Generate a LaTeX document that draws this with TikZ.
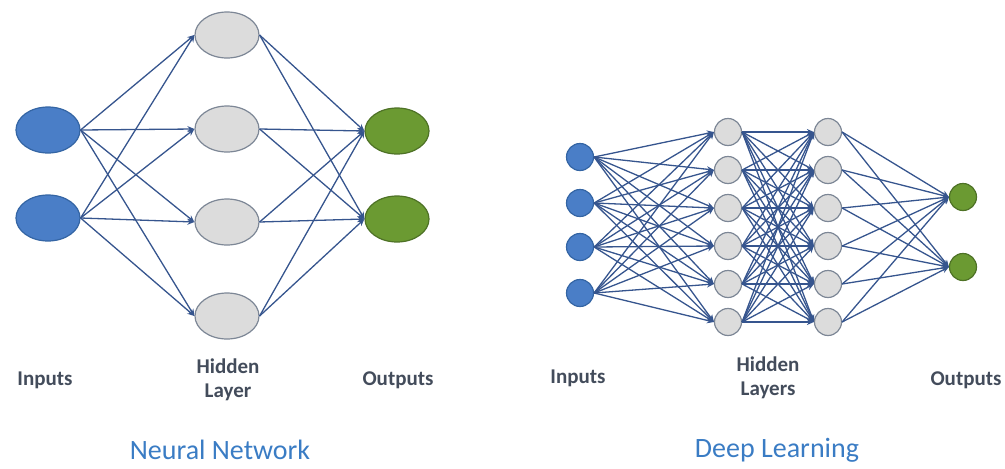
\documentclass[tikz,border=0pt]{standalone}
\usepackage{fontspec}
\setmainfont{Carlito}
\usetikzlibrary{arrows.meta,shapes.geometric}
\definecolor{linec}{HTML}{36558E}
\definecolor{inpf}{HTML}{4A7EC7}
\definecolor{inpd}{HTML}{3465A4}
\definecolor{hidf}{HTML}{DCDCDC}
\definecolor{hidd}{HTML}{7D8796}
\definecolor{outf}{HTML}{6B9A32}
\definecolor{outd}{HTML}{4E7226}
\definecolor{labc}{HTML}{434C5B}
\definecolor{titc}{HTML}{3A7CC4}
\tikzset{
  inbig/.style={ellipse, draw=inpd, fill=inpf, line width=1.2pt, minimum width=64pt, minimum height=46pt, inner sep=0pt},
  hidbig/.style={ellipse, draw=hidd, fill=hidf, line width=1.2pt, minimum width=64pt, minimum height=46pt, inner sep=0pt},
  outbig/.style={ellipse, draw=outd, fill=outf, line width=1.2pt, minimum width=64pt, minimum height=46pt, inner sep=0pt},
  insm/.style={circle, draw=inpd, fill=inpf, line width=1.2pt, minimum size=27pt, inner sep=0pt},
  hidsm/.style={circle, draw=hidd, fill=hidf, line width=1.2pt, minimum size=27pt, inner sep=0pt},
  outsm/.style={circle, draw=outd, fill=outf, line width=1.2pt, minimum size=27pt, inner sep=0pt},
  conn/.style={draw=linec, line width=1.3pt, -{Stealth[length=7pt,width=6pt]}},
  lab/.style={text=labc, font=\bfseries\fontsize{21}{24}\selectfont, align=center},
  title/.style={text=titc, font=\fontsize{28}{31}\selectfont}
}
\begin{document}
\begin{tikzpicture}[x=1pt,y=-1pt]
\useasboundingbox (0,0) rectangle (1005,469);
% ---- Neural network ----
\node[inbig] (a1) at (48,130) {};
\node[inbig] (a2) at (48,218) {};
\node[hidbig] (b1) at (227,35) {};
\node[hidbig] (b2) at (227,129) {};
\node[hidbig] (b3) at (227,222) {};
\node[hidbig] (b4) at (227,316) {};
\node[outbig] (c1) at (397,131) {};
\node[outbig] (c2) at (397,219) {};
\foreach \i in {1,2}{
  \foreach \j in {1,2,3,4}{
    \draw[conn] (a\i.east) -- (b\j.west);
  }
}
\foreach \j in {1,2,3,4}{
  \foreach \k in {1,2}{
    \draw[conn] (b\j.east) -- (c\k.west);
  }
}
% ---- Deep learning ----
\node[insm] (d1) at (580,157) {};
\node[insm] (d2) at (580,203) {};
\node[insm] (d3) at (580,247) {};
\node[insm] (d4) at (580,293) {};
\foreach \n/\y in {1/132,2/170,3/208,4/246,5/284,6/322}{
  \node[hidsm] (e\n) at (728,\y) {};
  \node[hidsm] (f\n) at (828,\y) {};
}
\node[outsm] (g1) at (963,197) {};
\node[outsm] (g2) at (963,267) {};
\foreach \i in {1,...,4}{
  \foreach \j in {1,...,6}{
    \draw[conn] (d\i.east) -- (e\j.west);
  }
}
\foreach \i in {1,...,6}{
  \foreach \j in {1,...,6}{
    \draw[conn] (e\i.east) -- (f\j.west);
  }
}
\foreach \i in {1,...,6}{
  \foreach \k in {1,2}{
    \draw[conn] (f\i.east) -- (g\k.west);
  }
}
% ---- labels ----
\node[lab] (l1) at (45,380) {Inputs};
\node[lab] (l2) at (228,380) {Hidden\\Layer};
\node[lab] (l3) at (398,380) {Outputs};
\node[lab] (l4) at (578,378) {Inputs};
\node[lab] (l5) at (768,378) {Hidden\\Layers};
\node[lab] (l6) at (966,380) {Outputs};
\node[title] (t1) at (220,450) {Neural Network};
\node[title] (t2) at (777,450) {Deep Learning};
\end{tikzpicture}
\end{document}
